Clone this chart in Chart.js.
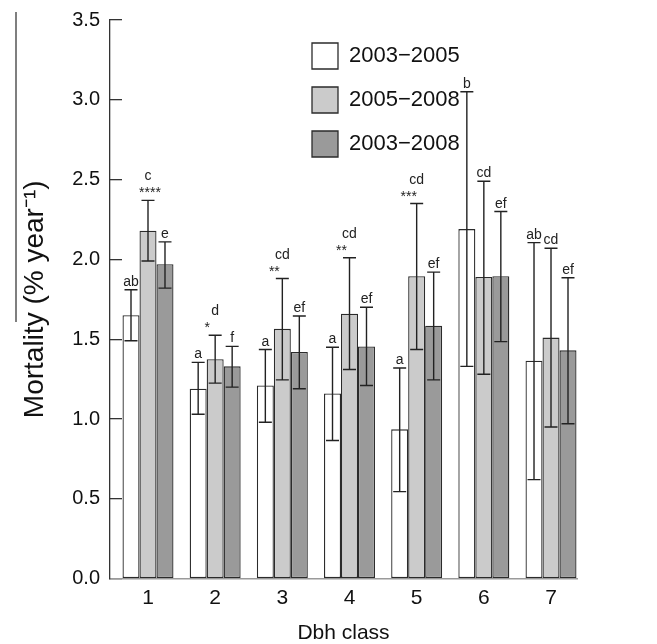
<!DOCTYPE html>
<html><head><meta charset="utf-8">
<script src="https://cdn.jsdelivr.net/npm/chart.js@4.4.1/dist/chart.umd.min.js"></script>
<style>html,body{margin:0;padding:0;background:#fff;}canvas{display:block;}</style>
</head><body>
<canvas id="c" width="657" height="644"></canvas>
<script>
// ---- data ----
const dbhClasses = [1, 2, 3, 4, 5, 6, 7];
const periods = ['2003\u22122005', '2005\u22122008', '2003\u22122008'];
const mort0305 = [1.65, 1.19, 1.21, 1.16, 0.935, 2.19, 1.365];
const low0305  = [1.49, 1.03, 0.98, 0.865, 0.545, 1.33, 0.62];
const high0305 = [1.81, 1.355, 1.435, 1.45, 1.32, 3.05, 2.105];
const mort0508 = [2.18, 1.375, 1.565, 1.66, 1.895, 1.89, 1.51];
const low0508  = [1.99, 1.225, 1.245, 1.31, 1.435, 1.28, 0.95];
const high0508 = [2.37, 1.525, 1.88, 2.01, 2.35, 2.49, 2.07];
const mort0308 = [1.97, 1.33, 1.42, 1.455, 1.585, 1.895, 1.43];
const low0308  = [1.82, 1.20, 1.19, 1.21, 1.245, 1.485, 0.97];
const high0308 = [2.11, 1.455, 1.645, 1.70, 1.92, 2.30, 1.885];
const letters0305 = ['ab', 'a', 'a', 'a', 'a', 'b', 'ab'];
const letters0508 = ['c', 'd', 'cd', 'cd', 'cd', 'cd', 'cd'];
const letters0308 = ['e', 'f', 'ef', 'ef', 'ef', 'ef', 'ef'];
const stars0508   = ['****', '*', '**', '**', '***', '', ''];
const yTickValues = [0, 0.5, 1, 1.5, 2, 2.5, 3, 3.5];

const FONT = '"Liberation Sans", Arial, Helvetica, sans-serif';
Chart.defaults.font.family = FONT;
Chart.defaults.color = '#111';

function pts(vals) { return dbhClasses.map((c, i) => ({ x: c, y: vals[i] })); }

const errorBarPlugin = {
  id: 'errorBars',
  afterDatasetsDraw(chart) {
    const ctx = chart.ctx, ys = chart.scales.y;
    chart.data.datasets.forEach((ds, di) => {
      const meta = chart.getDatasetMeta(di);
      meta.data.forEach((bar, i) => {
        const x = bar.x;
        const yl = ys.getPixelForValue(ds.errLow[i]);
        const yh = ys.getPixelForValue(ds.errHigh[i]);
        ctx.save();
        ctx.strokeStyle = '#222';
        ctx.lineWidth = 1.4;
        ctx.beginPath();
        ctx.moveTo(x, yl); ctx.lineTo(x, yh);
        ctx.moveTo(x - 6.5, yh); ctx.lineTo(x + 6.5, yh);
        ctx.moveTo(x - 6.5, yl); ctx.lineTo(x + 6.5, yl);
        ctx.stroke();
        ctx.font = '14px ' + FONT;
        ctx.fillStyle = '#222';
        ctx.textAlign = 'center';
        ctx.textBaseline = 'alphabetic';
        const st = ds.stars ? ds.stars[i] : '';
        if (st) {
          ctx.fillText(st, x + (st.length > 3 ? 2 : -8), yh - 3);
          ctx.fillText(ds.letters[i], x, yh - 20);
        } else {
          ctx.fillText(ds.letters[i], x, yh - 4);
        }
        ctx.restore();
      });
    });
  }
};

const legendPlacePlugin = {
  id: 'legendPlace',
  afterLayout(chart) {
    const lg = chart.legend; if (!lg) return;
    const ca = chart.chartArea;
    lg.left = ca.left + 184; lg.top = ca.top + 5;
    lg.width = 300; lg.height = 200;
    lg.right = lg.left + lg.width; lg.bottom = lg.top + lg.height;
  }
};

const strayLinePlugin = {
  id: 'strayLine',
  afterDraw(chart) {
    const ctx = chart.ctx;
    ctx.save();
    ctx.strokeStyle = '#555'; ctx.lineWidth = 1.5;
    ctx.beginPath(); ctx.moveTo(16, 12); ctx.lineTo(16, 322); ctx.stroke();
    ctx.restore();
  }
};

const barStyle = { borderColor: '#2b2b2b', borderWidth: 1.3, borderSkipped: false,
                   categoryPercentage: 0.759, barPercentage: 1.0 };

new Chart(document.getElementById('c'), {
  type: 'bar',
  data: {
    datasets: [
      Object.assign({ label: periods[0], data: pts(mort0305), backgroundColor: '#ffffff',
        errLow: low0305, errHigh: high0305, letters: letters0305 }, barStyle),
      Object.assign({ label: periods[1], data: pts(mort0508), backgroundColor: '#cbcbcb',
        errLow: low0508, errHigh: high0508, letters: letters0508, stars: stars0508 }, barStyle),
      Object.assign({ label: periods[2], data: pts(mort0308), backgroundColor: '#9a9a9a',
        errLow: low0308, errHigh: high0308, letters: letters0308 }, barStyle)
    ]
  },
  options: {
    responsive: false,
    animation: false,
    devicePixelRatio: 1,
    layout: { padding: { left: 0, right: 80, top: 0, bottom: 0 } },
    plugins: {
      legend: {
        position: 'chartArea', align: 'start',
        labels: { boxWidth: 26, boxHeight: 26, padding: 18, color: '#111',
                  font: { size: 22, family: FONT } }
      },
      tooltip: { enabled: false }
    },
    scales: {
      x: {
        type: 'linear', min: 0.4343, max: 7.387, offset: false,
        afterBuildTicks: s => { s.ticks = dbhClasses.map(v => ({ value: v })); },
        grid: { display: false, drawTicks: false, tickLength: 0, offset: false },
        border: { display: true, color: '#9a9a9a', width: 1.5 },
        ticks: { padding: 7, color: '#111', font: { size: 21, family: FONT },
                 callback: v => String(v) },
        title: { display: true, text: 'Dbh class', color: '#111',
                 font: { size: 21, family: FONT }, padding: { top: 3, bottom: -2 } }
      },
      y: {
        min: 0, max: 3.5,
        afterBuildTicks: s => { s.ticks = yTickValues.map(v => ({ value: v })); },
        afterFit: s => { s.width = 110; s.paddingTop = 20; },
        grid: { display: true, drawOnChartArea: false, drawTicks: true, tickLength: -12,
                color: '#333', lineWidth: 1.3 },
        border: { display: true, color: '#333', width: 1.3 },
        ticks: { padding: 22, color: '#111', font: { size: 20, family: FONT },
                 callback: v => Number(v).toFixed(1) },
        title: { display: true, text: 'Mortality (% year\u207B\u00B9)', color: '#111',
                 font: { size: 28, family: FONT }, padding: { top: 18, bottom: 0 } }
      }
    }
  },
  plugins: [errorBarPlugin, legendPlacePlugin, strayLinePlugin]
});
</script>
</body></html>
